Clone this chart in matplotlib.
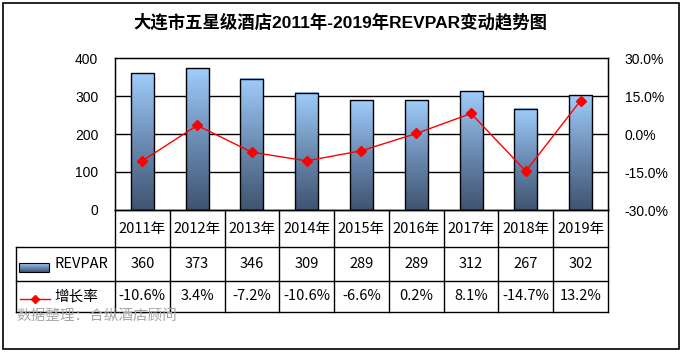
import numpy as np
import matplotlib
matplotlib.use("Agg")
import matplotlib.pyplot as plt
from matplotlib.patches import Rectangle
from matplotlib.lines import Line2D
from matplotlib.colors import LinearSegmentedColormap

# data
years = ["2011年", "2012年", "2013年", "2014年", "2015年", "2016年", "2017年", "2018年", "2019年"]
revpar = [360, 373, 346, 309, 289, 289, 312, 267, 302]
growth = [-10.6, 3.4, -7.2, -10.6, -6.6, 0.2, 8.1, -14.7, 13.2]
left_ticks = [0, 100, 200, 300, 400]
right_ticks = [-30, -15, 0, 15, 30]

W, H = 682, 353
LATIN = ["Liberation Sans", "Noto Sans CJK SC"]
CJK = ["Noto Sans CJK SC", "DejaVu Sans"]

fig = plt.figure(figsize=(W / 100, H / 100), dpi=100)
fig.patch.set_facecolor("white")

# plot area in pixels
px_l, px_r, px_t, px_b = 115, 608, 58, 210
ax = fig.add_axes([px_l / W, 1 - px_b / H, (px_r - px_l) / W, (px_b - px_t) / H])
n = len(years)
x = np.arange(n)
ax.set_xlim(-0.5, n - 0.5)
ax.set_ylim(0, 400)

# gradient bars
cmap = LinearSegmentedColormap.from_list("bar", ["#3f5470", "#6c8cb4", "#9fcdfb"])
grad = np.linspace(0, 1, 256).reshape(-1, 1)
bw = 0.42
bars = ax.bar(x, revpar, width=bw, facecolor="none", edgecolor="black", linewidth=1.0, zorder=3)
for b in bars:
    x0, w, h = b.get_x(), b.get_width(), b.get_height()
    ax.imshow(grad, cmap=cmap, origin="lower", aspect="auto",
              extent=[x0, x0 + w, 0, h], zorder=2, interpolation="bilinear")
ax.set_xlim(-0.5, n - 0.5)
ax.set_ylim(0, 400)

ax.set_yticks(left_ticks)
ax.set_yticklabels([str(t) for t in left_ticks], family=LATIN, fontsize=10)
ax.tick_params(axis="y", length=0, pad=12)
ax.set_xticks([])
for t in left_ticks[1:-1]:
    ax.axhline(t, color="black", linewidth=1.0, zorder=1)
for s in ax.spines.values():
    s.set_linewidth(1.0)

ax2 = ax.twinx()
ax2.set_ylim(-30, 30)
ax2.plot(x, growth, color="red", linewidth=1.0, marker="D", markersize=5,
         markerfacecolor="red", markeredgecolor="red", zorder=4)
ax2.set_yticks(right_ticks)
ax2.set_yticklabels([f"{t:.1f}%" for t in right_ticks], family=LATIN, fontsize=10)
ax2.tick_params(axis="y", length=0, pad=12)
ax2.set_xlim(-0.5, n - 0.5)

# overlay in pixel coordinates for table, legend, title, footer
ov = fig.add_axes([0, 0, 1, 1], zorder=10)
ov.set_xlim(0, W)
ov.set_ylim(H, 0)
ov.axis("off")
ov.patch.set_alpha(0)

ov.add_patch(Rectangle((3, 3), 676, 346, fill=False, edgecolor="black", linewidth=1.2))

ov.text(340, 22, "大连市五星级酒店2011年-2019年REVPAR变动趋势图", ha="center", va="center",
        fontsize=12.5, fontweight="bold", family=LATIN)

colw = (px_r - px_l) / n
r0, r1, r2, r3 = px_b, 247, 281, 312
tl = 16
lw = 1.0
# horizontal lines
ov.plot([px_l, px_r], [r0, r0], color="black", lw=lw)
ov.plot([tl, px_r], [r1, r1], color="black", lw=lw)
ov.plot([tl, px_r], [r2, r2], color="black", lw=lw)
ov.plot([tl, px_r], [r3, r3], color="black", lw=lw)
# vertical lines
ov.plot([tl, tl], [r1, r3], color="black", lw=lw)
for i in range(n + 1):
    xx = px_l + i * colw
    ov.plot([xx, xx], [r0, r3], color="black", lw=lw)

for i in range(n):
    cx = px_l + (i + 0.5) * colw
    ov.text(cx, (r0 + r1) / 2, years[i], ha="center", va="center", fontsize=10.5, family=CJK)
    ov.text(cx, (r1 + r2) / 2, str(revpar[i]), ha="center", va="center", fontsize=10.5, family=CJK)
    ov.text(cx, (r2 + r3) / 2, f"{growth[i]:.1f}%", ha="center", va="center", fontsize=10.5, family=CJK)

# legend cells
ov.imshow(grad, cmap=cmap, origin="upper", aspect="auto", extent=[19, 49, 263, 272], zorder=2)
ov.add_patch(Rectangle((19, 263), 30, 9, fill=False, edgecolor="black", linewidth=0.8, zorder=3))
ov.set_xlim(0, W)
ov.set_ylim(H, 0)
ov.text(54, (r1 + r2) / 2, "REVPAR", ha="left", va="center", fontsize=10.5, family=CJK)
ov.add_line(Line2D([20, 50], [299, 299], color="red", lw=1.0))
ov.add_line(Line2D([35], [299], color="red", marker="D", markersize=4.5))
ov.text(54, (r2 + r3) / 2, "增长率", ha="left", va="center", fontsize=10.5, family=CJK)

ov.text(16, 316, "数据整理：合纵酒店顾问", ha="left", va="center", fontsize=10.5,
        color="#a6a6a6", family=CJK)

fig.savefig("out.png", dpi=100)
